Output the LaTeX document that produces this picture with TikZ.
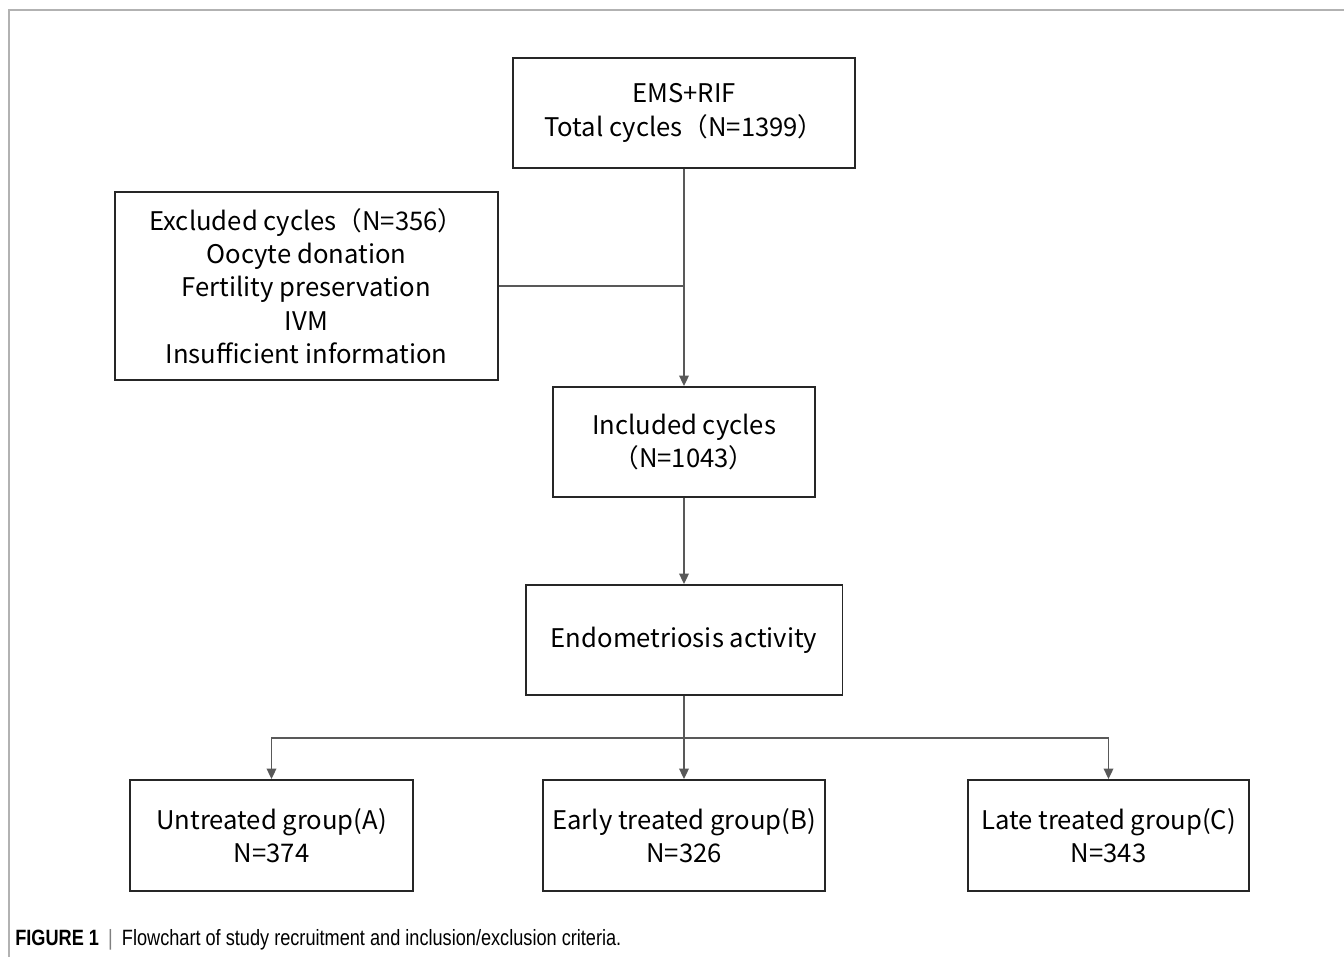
\documentclass[tikz,border=0pt]{standalone}
\usepackage{fontspec}
\setmainfont{Noto Sans CJK SC}
\newfontfamily\capfont{Liberation Sans}
\usetikzlibrary{arrows.meta}

\tikzset{
  stagebox/.style={draw=black!85, line width=1.1pt, align=center, inner sep=0pt,
    font=\fontsize{14.6}{19}\selectfont},
  flowline/.style={draw=black!65, line width=0.9pt},
  flowarrow/.style={flowline, -{Triangle[width=5.5pt,length=6pt]}},
}

\begin{document}
\begin{tikzpicture}[x=0.02cm, y=-0.02cm]
    \useasboundingbox (0,0) rectangle (1344,957);

    % Cornice
    \draw[black!30, line width=1.1pt] (1344,10) -- (9,10) -- (9,957);

    % Cicli totali ed esclusi
    \node[stagebox, minimum width=6.84cm, minimum height=2.2cm] (total) at (684,113)
        {EMS+RIF\\Total cycles（N=1399）};
    \node[stagebox, minimum width=7.66cm, minimum height=3.76cm] (excl) at (306.5,286)
        {Excluded cycles（N=356）\\Oocyte donation\\Fertility preservation\\IVM\\Insufficient information};

    % Cicli inclusi
    \node[stagebox, minimum width=5.24cm, minimum height=2.2cm] (incl) at (684,442)
        {Included cycles\\（N=1043）};
    \node[stagebox, minimum width=6.34cm, minimum height=2.2cm] (endo) at (684,640)
        {Endometriosis activity};

    % Gruppi
    \node[stagebox, minimum width=5.66cm, minimum height=2.22cm] (untr) at (271.5,835.5)
        {Untreated group(A)\\N=374};
    \node[stagebox, minimum width=5.64cm, minimum height=2.22cm] (early) at (684,835.5)
        {Early treated group(B)\\N=326};
    \node[stagebox, minimum width=5.62cm, minimum height=2.22cm] (late) at (1108.5,835.5)
        {Late treated group(C)\\N=343};

    % Collegamenti
    \draw[flowarrow] (total) -- (incl);
    \draw[flowline] (excl.east) -- (excl.east -| total.south);
    \draw[flowarrow] (incl) -- (endo);
    \coordinate (fork) at (684,738);
    \draw[flowarrow] (endo) -- (early);
    \draw[flowarrow] (fork) -| (untr.north);
    \draw[flowarrow] (fork) -| (late.north);

    % Didascalia
    \node[anchor=west, inner sep=0pt, font=\capfont\fontsize{12.6}{15}\selectfont] (caption) at (15,940)
        {\scalebox{0.82}[1]{\textbf{FIGURE 1}\enspace{\color{black!50}|}\enspace Flowchart of study recruitment and inclusion/exclusion criteria.}};
\end{tikzpicture}
\end{document}
